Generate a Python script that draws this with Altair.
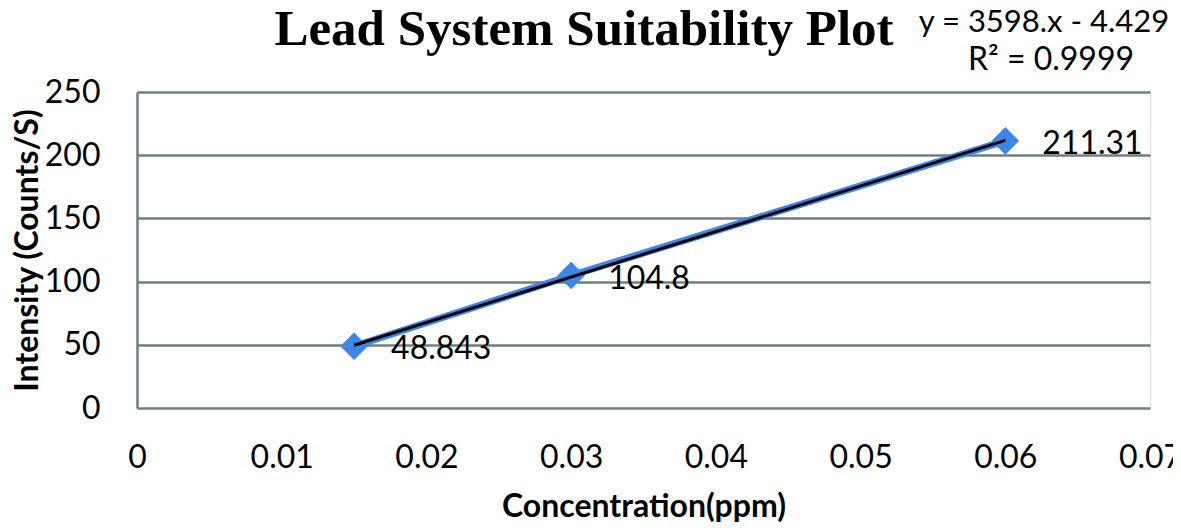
import altair as alt
import pandas as pd

concentration = [0.015, 0.03, 0.06]
intensity = [48.843, 104.8, 211.31]
point_labels = ["48.843", "104.8", "211.31"]
x_ticks = [0, 0.01, 0.02, 0.03, 0.04, 0.05, 0.06, 0.07]
y_ticks = [0, 50, 100, 150, 200, 250]
chart_title = "Lead System Suitability Plot"
equation_line = "y = 3598.x - 4.429"
r2_line = "R² = 0.9999"

df = pd.DataFrame({"conc": concentration, "intensity": intensity, "label": point_labels})

FONT = "Lato"
BLUE = "#3b86e6"
GRID = "#6f7f7f"

x_enc = alt.X("conc:Q", scale=alt.Scale(domain=[0, 0.07], nice=False),
              axis=alt.Axis(values=x_ticks, title="Concentration(ppm)", grid=False, ticks=False,
                            domain=False, labelFont=FONT, labelFontSize=32, labelColor="black",
                            labelPadding=34, titleFont=FONT, titleFontSize=32, titleFontWeight="bold",
                            titleColor="black", titlePadding=18, labelFlush=False,
                            format="~g"))
y_enc = alt.Y("intensity:Q", scale=alt.Scale(domain=[0, 250], nice=False),
              axis=alt.Axis(values=y_ticks, title="Intensity (Counts/S)", grid=True, gridColor=GRID,
                            gridWidth=2.5, gridOpacity=1, ticks=False, domain=True, domainColor=GRID,
                            domainWidth=2.5, labelFont=FONT, labelFontSize=32, labelColor="black",
                            labelPadding=37, titleFont=FONT, titleFontSize=32, titleFontWeight="bold",
                            titleColor="black", titlePadding=0))

base = alt.Chart(df)

blue_line = base.mark_line(color=BLUE, strokeWidth=7).encode(x=x_enc, y=y_enc)
points = base.mark_point(shape="diamond", filled=True, size=760, color=BLUE, opacity=1).encode(
    x="conc:Q", y="intensity:Q")
trend = base.transform_regression("conc", "intensity", extent=[0.015, 0.06]).mark_line(
    color="black", strokeWidth=3).encode(x="conc:Q", y="intensity:Q")
labels = base.mark_text(align="left", baseline="middle", dx=37, dy=3, font=FONT, fontSize=32,
                        color="black").encode(x="conc:Q", y="intensity:Q", text="label:N")

title_mark = alt.Chart(pd.DataFrame({"t": [chart_title]})).mark_text(
    align="center", baseline="alphabetic", font="Liberation Serif", fontSize=51, fontWeight="bold",
    color="black").encode(x=alt.value(447), y=alt.value(-47), text="t:N")
eq1 = alt.Chart(pd.DataFrame({"t": [equation_line]})).mark_text(
    align="center", baseline="alphabetic", font=FONT, fontSize=31, color="black").encode(
    x=alt.value(907), y=alt.value(-60), text="t:N")
eq2 = alt.Chart(pd.DataFrame({"t": [r2_line]})).mark_text(
    align="center", baseline="alphabetic", font=FONT, fontSize=32, color="black").encode(
    x=alt.value(914), y=alt.value(-22), text="t:N")

chart = alt.layer(blue_line, points, trend, labels, title_mark, eq1, eq2).properties(
    width=1013, height=316,
    autosize=alt.AutoSizeParams(type="none"),
    padding={"left": 129, "top": 84, "right": 23, "bottom": 114},
).configure_view(stroke=None).configure(background="white")

chart.save("out.html", embed_options={"renderer": "svg", "actions": False})
